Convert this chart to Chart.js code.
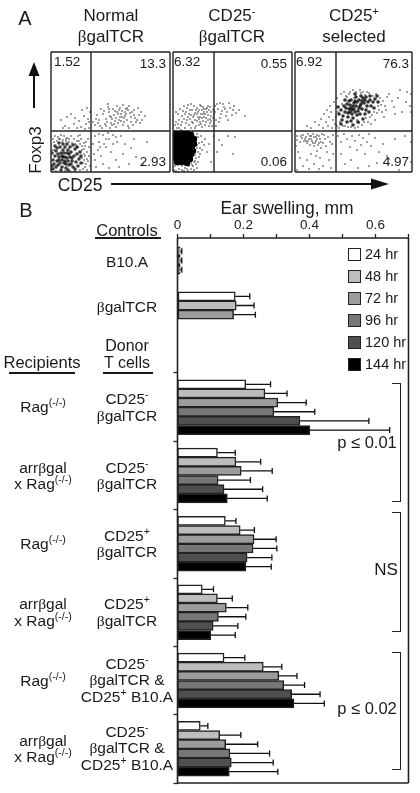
<!DOCTYPE html>
<html>
<head>
<meta charset="utf-8">
<title>Foxp3 and ear swelling</title>
<script src="https://cdn.jsdelivr.net/npm/chart.js@4"></script>
<style>
  html, body { margin: 0; background: #fff; }
  #page { position: relative; width: 420px; height: 793px; overflow: hidden; font-family: "Liberation Sans", Arial, sans-serif; color: #1a1a1a; }
  canvas { position: absolute; }
  .t { position: absolute; white-space: nowrap; text-align: center; line-height: 16.5px; transform: translate(-50%, -50%); font-size: 15.5px; }
  .t sup { font-size: 68%; line-height: 0; vertical-align: 0.55em; }
  .b { font-family: "Liberation Serif", serif; }
  .rule { position: absolute; height: 2px; background: #1a1a1a; }
  .bracket { position: absolute; left: 392px; width: 8px; border: 1.5px solid #222; border-left: none; }
  .swatch { position: absolute; left: 348px; width: 11px; height: 11px; border: 1.5px solid #222; }
  svg { position: absolute; left: 0; top: 0; }
</style>
</head>
<body>
<div id="page">
  <canvas id="panel1"></canvas>
  <canvas id="panel2"></canvas>
  <canvas id="panel3"></canvas>
  <canvas id="controlsChart"></canvas>
  <canvas id="swellingChart"></canvas>
  <svg width="420" height="793">
    <line x1="34" y1="108" x2="34" y2="72" stroke="#111" stroke-width="2"/>
    <polygon points="34,62 28.5,76 39.5,76" fill="#111"/>
    <line x1="111" y1="184" x2="376" y2="184" stroke="#111" stroke-width="2"/>
    <polygon points="389,184 371,178.5 371,189.5" fill="#111"/>
  </svg>
</div>
<script>
const panelTitles = [
  'Normal<br><span class="b">β</span>galTCR',
  'CD25<sup>-</sup><br><span class="b">β</span>galTCR',
  'CD25<sup>+</sup><br>selected'
];
const p1Pct = ['1.52', '13.3', '2.93'];
const p2Pct = ['6.32', '0.55', '0.06'];
const p3Pct = ['6.92', '76.3', '4.97'];
const gateX = [40, 41, 41];
const gateY = [41, 41, 41];

// Points de cytométrie, zones denses
const p1Core = [[14,15],[11,12],[17,11],[8,15],[13,9],[19,15],[16,19],[10,19],[21,11],[6,11],[12,22],[18,7],[23,16],[7,7],[15,4],[20,20],[4,16],[25,10],[9,25],[14,25],[3,8],[26,18],[19,25],[24,23],[5,21],[11,5],[22,5],[28,13],[2,12],[12,15],[16,14],[9,9],[14,11],[18,18],[11,16],[7,18],[21,14],[15,8],[13,19],[17,22],[8,12],[20,8],[5,5],[10,2],[27,6],[4,26],[16,28],[22,27],[29,20],[1,19],[2,3],[6,24],[12,28],[24,3],[30,9],[1,6],[17,2],[26,25],[30,16],[8,29]];
const p2Core = [[3,38],[7,38],[11,38],[15,38],[18,37],[3,34],[7,34],[11,34],[15,34],[19,34],[3,30],[7,30],[11,30],[15,30],[19,30],[3,26],[7,26],[11,26],[15,26],[19,26],[21,28],[3,22],[7,22],[11,22],[15,22],[19,22],[3,18],[7,18],[11,18],[15,18],[18,18],[20,21],[3,14],[7,14],[11,14],[15,14],[17,13],[4,10],[8,10],[12,10],[14,9],[21,33]];
const p3Core = [[58,66],[62,70],[54,63],[66,68],[50,60],[70,72],[60,60],[56,72],[64,64],[52,68],[72,66],[48,56],[68,74],[57,58],[75,72],[61,75],[53,55],[78,70],[46,62],[65,58],[59,69],[63,61],[55,67],[69,69],[51,64],[73,70],[57,62],[67,63],[61,66],[55,60],[49,66],[71,62],[64,72],[58,54],[76,66],[62,57],[44,58],[80,73],[54,71],[66,76],[60,78],[47,52],[52,50],[56,51],[70,58],[74,60],[83,70],[79,64],[43,65],[50,72],[68,53],[63,50],[59,63],[65,66],[56,64],[60,71],[67,71],[53,59],[71,75],[75,76],[82,76],[46,48],[58,47]];

// Points isolés
const p1Dots = [[1,3],[1,22],[2,33],[3,30],[4,36],[6,31],[7,35],[9,33],[10,37],[12,32],[13,36],[15,31],[16,34],[18,30],[20,36],[21,29],[23,33],[24,28],[26,31],[27,25],[29,28],[31,22],[31,26],[33,18],[33,23],[33,12],[34,16],[35,8],[34,5],[36,20],[36,2],[32,3],[29,2],[24,1],[19,1],[14,1],[5,1],[37,11],[38,25],[35,30],[30,33],[27,36],[38,16],[39,6],[32,9],[29,15],[18,33],[11,30],[3,22],[25,27],[33,29],[37,33],[29,37],[31,14],[34,26],[28,31],[15,33],[8,33],[36,13],
  [10,52],[14,46],[20,58],[23,48],[28,51],[30,45],[33,56],[35,48],[37,53],[38,44],[39,60],[26,44],[18,44],[31,62],[36,64],[16,55],[24,54],[34,43],[12,44],[38,50],
  [52,58],[67,49],[71,61],[48,52],[80,55],[61,47],[75,63],[58,60],[88,57],[44,47],[66,66],[73,50],[55,53],[83,62],[63,57],[91,52],[50,63],[77,46],[69,55],[59,44],[85,50],[46,57],[72,67],[64,51],[79,59],[54,48],[68,62],[87,64],[60,55],[76,52],[49,46],[82,47],[57,65],[70,58],[65,45],[74,56],[53,61],[90,60],[62,63],[78,66],[47,49],[84,54],[56,50],[67,58],[72,47],[61,53],[81,60],[51,44],[75,58],[69,64],[59,56],[86,52],[64,61],[73,54],[55,46],[68,52],[77,62],[63,48],[80,50],[58,63],[71,55],[66,60],[83,57],[45,53],[89,49],[74,60],[60,49],[65,54],[70,51],[76,64],[94,56],[57,68],[42,50],[78,44],
  [44,36],[48,30],[52,37],[47,22],[44,12],[50,16],[55,25],[58,33],[62,37],[66,30],[70,36],[74,28],[60,20],[65,12],[72,18],[80,24],[85,15],[92,8],[45,5],[52,8],[58,4],[78,8],[68,5],[55,33],[62,28],[48,38],[42,28],[43,18],[96,30],[83,33],[57,39],[65,35],[53,28],[49,25]];
const p2Dots = [[1,2],[3,1],[6,3],[9,2],[12,4],[15,1],[18,3],[21,2],[24,4],[2,6],[5,7],[9,6],[11,1],[16,6],[20,6],[14,3],[23,8],[25,10],[18,9],[21,10],[19,13],[23,14],[26,15],[22,17],[25,20],[27,18],[24,24],[27,24],[29,22],[26,29],[29,30],[31,27],[25,35],[28,36],[24,38],[32,33],[34,20],[36,28],[38,10],[41,36],[46,32],[49,27],[55,36],[62,35],[44,20],[60,18],[2,41],[20,40],[23,31],[24,27],[22,22],[20,16],[16,11],[1,12],[22,11],[19,7],
  [31,60],[8,47],[22,52],[14,64],[37,49],[5,58],[27,67],[18,44],[33,54],[11,53],[40,62],[24,58],[3,50],[29,45],[16,58],[35,66],[7,63],[20,49],[38,56],[12,44],[26,62],[43,52],[9,56],[30,51],[21,66],[4,44],[34,60],[17,53],[39,46],[25,55],[13,49],[28,58],[6,52],[36,62],[19,62],[32,47],[10,61],[23,46],[41,58],[15,55],[27,50],[2,47],[37,65],[22,59],[30,65],[8,42],[33,50],[18,68],[26,53],[12,58],[35,57],[20,55],[29,62],[5,48],[38,60],[16,47],[24,64],[31,55],[14,52],[28,48],[3,60],[34,64],[9,50],[22,44],[37,53],[11,66],[25,60],[19,50],[32,58],[6,44],[27,55],[40,54],[17,62],[30,58],[13,60],[23,62],[36,46],[21,57],[33,63],[28,66],[35,52],[26,47],[18,57],[24,51],[31,63],[38,51],[29,54],[15,67],[42,60],
  [45,63],[48,58],[44,68],[51,65],[47,54],[54,60],[50,68],[57,64],[46,50],[53,56],[60,62],[43,46],[49,61],[56,69],[63,59],[52,63],[59,57],[66,62],[55,52],[72,56],[61,66],[47,69],[42,66]];
const p3Dots = [[2,2],[3,20],[2,32],[2,36],[1,26],[8,37],[5,30],[14,33],[7,34],[18,29],[11,35],[24,36],[13,38],[9,31],[16,36],[21,31],[19,35],[12,29],[26,30],[22,33],[17,31],[29,37],[15,27],[25,33],[20,29],[10,33],[28,29],[23,27],[33,35],[6,36],[31,26],[16,33],[35,30],[19,26],[27,38],[37,28],[22,37],[30,33],[13,31],[38,37],[24,29],[18,38],[15,36],[21,35],[11,31],[26,24],[16,18],[21,16],[25,14],[12,12],[19,8],[8,6],[28,6],[34,12],[5,14],[38,18],[14,3],[24,3],[36,4],[32,20],[22,21],
  [12,46],[16,44],[24,47],[28,44],[33,46],[20,50],[31,50],[26,53],[37,44],[29,58],[34,55],[38,52],[32,62],[42,46],[36,60],[40,48],[35,66],[41,55],[44,44],[39,70],[45,50],[42,74],[48,46],[47,68],[51,76],[46,78],[43,60],[49,80],[50,46],[54,78],[53,45],[52,75],[55,80],[56,45],[58,82],[60,44],[59,74],[61,80],[63,45],[62,52],[65,82],[64,49],[66,79],[67,47],[68,80],[69,50],[72,80],[71,54],[70,77],[73,50],[74,79],[75,55],[76,48],[78,76],[77,57],[79,60],[80,52],[81,78],[82,59],[83,66],[84,62],[85,74],[86,67],[87,60],[88,71],[89,55],[90,66],[92,75],[94,78],[91,62],[97,71],[99,65],[103,74],[107,60],[111,70],[115,66],[116,78],[116,60],[105,82],[112,80],[100,58],
  [43,36],[46,30],[49,38],[52,33],[55,25],[57,36],[60,31],[62,22],[64,37],[66,27],[68,34],[70,18],[72,30],[74,38],[76,26],[80,34],[84,20],[88,28],[92,16],[94,13],[46,18],[50,8],[56,12],[63,4],[74,6],[82,9],[100,33],[110,36],[116,30],[116,10],[104,2]];

// Panel B : catégories
const controlLabels = ['B10.A', '<span class="b">β</span>galTCR', ''];
const recipients = [
  'Rag<sup>(-/-)</sup>', 'arr<span class="b">β</span>gal<br>x Rag<sup>(-/-)</sup>',
  'Rag<sup>(-/-)</sup>', 'arr<span class="b">β</span>gal<br>x Rag<sup>(-/-)</sup>',
  'Rag<sup>(-/-)</sup>', 'arr<span class="b">β</span>gal<br>x Rag<sup>(-/-)</sup>'
];
const donors = [
  'CD25<sup>-</sup><br><span class="b">β</span>galTCR', 'CD25<sup>-</sup><br><span class="b">β</span>galTCR',
  'CD25<sup>+</sup><br><span class="b">β</span>galTCR', 'CD25<sup>+</sup><br><span class="b">β</span>galTCR',
  'CD25<sup>-</sup><br><span class="b">β</span>galTCR &amp;<br>CD25<sup>+</sup> B10.A', 'CD25<sup>-</sup><br><span class="b">β</span>galTCR &amp;<br>CD25<sup>+</sup> B10.A'
];
const hours = ['24 hr', '48 hr', '72 hr', '96 hr', '120 hr', '144 hr'];
const hourColors = ['#ffffff', '#bdbdbd', '#9c9c9c', '#777777', '#4f4f4f', '#000000'];
const xTicks = ['0', '', '0.2', '', '0.4', '', '0.6', ''];

// Témoins : moyenne puis haut de la barre d'erreur
const ctrl24 = [0.008, 0.175, null];
const ctrl48 = [0.008, 0.178, null];
const ctrl72 = [0.008, 0.170, null];
const ctrlErr24 = [0.013, 0.219, null];
const ctrlErr48 = [0.013, 0.232, null];
const ctrlErr72 = [0.013, 0.236, null];

// Receveurs
const mean24 = [0.207, 0.121, 0.145, 0.075, 0.141, 0.069];
const mean48 = [0.265, 0.177, 0.190, 0.121, 0.260, 0.128];
const mean72 = [0.304, 0.193, 0.232, 0.148, 0.307, 0.146];
const mean96 = [0.292, 0.123, 0.229, 0.124, 0.322, 0.159];
const mean120 = [0.371, 0.141, 0.211, 0.108, 0.346, 0.163];
const mean144 = [0.401, 0.151, 0.207, 0.101, 0.353, 0.157];
const err24 = [0.282, 0.175, 0.177, 0.109, 0.204, 0.092];
const err48 = [0.332, 0.252, 0.233, 0.166, 0.316, 0.192];
const err72 = [0.390, 0.287, 0.299, 0.213, 0.362, 0.243];
const err96 = [0.416, 0.221, 0.301, 0.207, 0.385, 0.279];
const err120 = [0.580, 0.258, 0.286, 0.183, 0.432, 0.290];
const err144 = [0.643, 0.272, 0.284, 0.175, 0.445, 0.304];

const page = document.getElementById('page');

function addText(html, x, y, size, extra) {
  const el = document.createElement('div');
  el.className = 't';
  el.innerHTML = html;
  el.style.left = x + 'px';
  el.style.top = y + 'px';
  if (size) el.style.fontSize = size + 'px';
  if (extra) el.style.cssText += extra;
  page.appendChild(el);
  return el;
}

function addRule(x, y, w) {
  const el = document.createElement('div');
  el.className = 'rule';
  el.style.cssText += `left:${x}px;top:${y}px;width:${w}px`;
  page.appendChild(el);
}

function addBracket(top, height) {
  const el = document.createElement('div');
  el.className = 'bracket';
  el.style.cssText += `top:${top}px;height:${height}px`;
  page.appendChild(el);
}

function sizeCanvas(canvas, left, top, width, height) {
  canvas.style.left = left + 'px';
  canvas.style.top = top + 'px';
  canvas.width = width;
  canvas.height = height;
  canvas.style.width = width + 'px';
  canvas.style.height = height + 'px';
}

// Cadre noir : le graphique B est en deux morceaux, on saute le côté commun
const framePlugin = {
  id: 'frame',
  afterDraw(chart, args, opts) {
    const a = chart.chartArea;
    const ctx = chart.ctx;
    ctx.save();
    ctx.strokeStyle = '#222';
    ctx.lineWidth = opts.width;
    ctx.beginPath();
    if (!opts.noTop) {
      ctx.moveTo(a.left, a.top);
      ctx.lineTo(a.right, a.top);
    }
    ctx.moveTo(a.right, a.top);
    ctx.lineTo(a.right, a.bottom);
    if (!opts.noBottom) {
      ctx.moveTo(a.right, a.bottom);
      ctx.lineTo(a.left, a.bottom);
    }
    ctx.moveTo(a.left, a.bottom);
    ctx.lineTo(a.left, a.top);
    ctx.stroke();
    ctx.restore();
  }
};

// Barres d'erreur, côté droit seulement
const errorPlugin = {
  id: 'errors',
  afterDatasetsDraw(chart) {
    const ctx = chart.ctx;
    const x = chart.scales.x;
    ctx.save();
    ctx.strokeStyle = '#111';
    ctx.lineWidth = 1.3;
    chart.data.datasets.forEach((ds, i) => {
      chart.getDatasetMeta(i).data.forEach((bar, j) => {
        if (ds.errors[j] === null) return;
        const px = x.getPixelForValue(ds.errors[j]);
        ctx.beginPath();
        ctx.moveTo(bar.x, bar.y);
        ctx.lineTo(px, bar.y);
        ctx.moveTo(px, bar.y - 3);
        ctx.lineTo(px, bar.y + 3);
        ctx.stroke();
      });
    });
    ctx.restore();
  }
};

function toPoints(list) {
  return list.map(p => ({ x: p[0], y: p[1] }));
}

function renderPanel(id, left, width, core, dots, coreColor, coreRadius, gx, gy) {
  const canvas = document.getElementById(id);
  sizeCanvas(canvas, left, 51, width, 122);
  new Chart(canvas, {
    type: 'scatter',
    data: {
      datasets: [
        { data: toPoints(core), pointRadius: coreRadius, pointBorderWidth: 0, pointBackgroundColor: coreColor, clip: 0 },
        { data: toPoints(dots), pointRadius: 0.75, pointBorderWidth: 0, pointBackgroundColor: '#111', clip: 0 },
        { data: [{ x: gx, y: 0 }, { x: gx, y: 120 }], showLine: true, pointRadius: 0, borderColor: '#222', borderWidth: 1.4 },
        { data: [{ x: 0, y: gy }, { x: 120, y: gy }], showLine: true, pointRadius: 0, borderColor: '#222', borderWidth: 1.4 }
      ]
    },
    options: {
      responsive: false,
      animation: false,
      layout: { padding: 1, autoPadding: false },
      plugins: { legend: { display: false }, tooltip: { enabled: false }, frame: { width: 1.4 } },
      scales: {
        x: { display: false, min: 0, max: width - 2 },
        y: { display: false, min: 0, max: 120 }
      }
    },
    plugins: [framePlugin]
  });
}

renderPanel('panel1', 50, 121, p1Core, p1Dots, 'rgba(0,0,0,0.75)', 1.8, gateX[0], gateY[0]);
renderPanel('panel2', 171.5, 121, p2Core, p2Dots, '#000', 3.2, gateX[1], gateY[1]);
renderPanel('panel3', 293.5, 119, p3Core, p3Dots, 'rgba(0,0,0,0.8)', 1.8, gateX[2], gateY[2]);

// Textes du panel A
addText('A', 25, 18, 20);
[111, 232, 354].forEach((x, i) => addText(panelTitles[i], x, 26, 17, 'line-height:21px'));
[[p1Pct, 54, 166], [p2Pct, 174, 287], [p3Pct, 296, 409]].forEach(([pct, l, r]) => {
  addText(pct[0], l, 62, 13.5, 'transform:translate(0,-50%)');
  addText(pct[1], r, 64, 13.5, 'transform:translate(-100%,-50%)');
  addText(pct[2], r, 162, 13.5, 'transform:translate(-100%,-50%)');
});
addText('Foxp3', 36, 150, 17, 'transform:translate(-50%,-50%) rotate(-90deg)');
addText('CD25', 80, 185, 17.5);

// Panel B : deux graphiques collés, témoins en haut et receveurs en bas
function barDataset(values, errors, hourIndex) {
  return {
    label: hours[hourIndex],
    data: values,
    errors: errors,
    backgroundColor: hourColors[hourIndex],
    borderColor: '#222',
    borderWidth: 1.5,
    borderSkipped: false,
    barThickness: 9.15
  };
}

const ctrlSeries = [ctrl24, ctrl48, ctrl72];
const ctrlErrSeries = [ctrlErr24, ctrlErr48, ctrlErr72];
const meanSeries = [mean24, mean48, mean72, mean96, mean120, mean144];
const errSeries = [err24, err48, err72, err96, err120, err144];

const controlsTop = 190;
const controlsCanvas = document.getElementById('controlsChart');
sizeCanvas(controlsCanvas, 0, controlsTop, 420, 183);
const controlsChart = new Chart(controlsCanvas, {
  type: 'bar',
  data: {
    labels: controlLabels,
    datasets: ctrlSeries.map((v, i) => barDataset(v, ctrlErrSeries[i], i))
  },
  options: {
    indexAxis: 'y',
    responsive: false,
    animation: false,
    layout: { padding: { right: 11.5 } },
    plugins: { legend: { display: false }, tooltip: { enabled: false }, frame: { width: 1.6, noBottom: true } },
    scales: {
      x: {
        position: 'top',
        min: 0,
        max: 0.7,
        afterFit(s) { s.height = 48; },
        afterBuildTicks(s) {
          s.ticks = xTicks.map((_, i) => ({ value: i / 10 }));
        },
        ticks: {
          autoSkip: false,
          maxRotation: 0,
          padding: 1,
          color: '#1a1a1a',
          font: { family: 'Liberation Sans', size: 13.5 },
          callback: (v, i) => xTicks[i]
        },
        border: { display: false },
        grid: { drawOnChartArea: false, tickLength: 4, tickColor: '#222', tickWidth: 1.3 }
      },
      y: {
        afterFit(s) { s.width = 177.5; },
        ticks: { display: false },
        border: { display: false },
        grid: { display: false }
      }
    }
  },
  plugins: [framePlugin, errorPlugin]
});

const swellTop = 370;
const swellCanvas = document.getElementById('swellingChart');
sizeCanvas(swellCanvas, 0, swellTop, 420, 420);
const swellChart = new Chart(swellCanvas, {
  type: 'bar',
  data: {
    labels: donors,
    datasets: meanSeries.map((v, i) => barDataset(v, errSeries[i], i))
  },
  options: {
    indexAxis: 'y',
    responsive: false,
    animation: false,
    layout: { padding: { right: 11.5, top: 3, bottom: 7 } },
    plugins: { legend: { display: false }, tooltip: { enabled: false }, frame: { width: 1.6, noTop: true } },
    scales: {
      x: { display: false, min: 0, max: 0.7 },
      y: {
        afterFit(s) { s.width = 177.5; },
        ticks: { display: false },
        border: { display: false },
        grid: { drawOnChartArea: false, tickLength: 4, tickColor: '#222', tickWidth: 1.3 }
      }
    }
  },
  plugins: [framePlugin, errorPlugin]
});

// Étiquettes de lignes placées avec les échelles
controlLabels.forEach((label, i) => {
  if (label) addText(label, 127, controlsTop + controlsChart.scales.y.getPixelForValue(i) + 1);
});
donors.forEach((label, i) => {
  const y = swellTop + swellChart.scales.y.getPixelForValue(i);
  addText(label, 127, y);
  addText(recipients[i], 43, y);
});

addText('B', 26, 210, 20);
addText('Controls', 127, 230, 16.5);
addRule(95, 237, 66);
addText('Donor<br>T cells', 127, 354, 16);
addRule(103, 372, 50);
addText('Recipients', 42, 362, 16.5);
addRule(9, 372, 66);
addText('Ear swelling, mm', 287, 208, 17.5);

// Légende
hours.forEach((h, i) => {
  const y = 254 + i * 22;
  const sw = document.createElement('div');
  sw.className = 'swatch';
  sw.style.cssText += `top:${y - 6}px;background:${hourColors[i]}`;
  page.appendChild(sw);
  addText(h, 365, y, 14.5, 'transform:translate(0,-50%)');
});

// Accolades et significativité
addBracket(383, 117);
addBracket(512, 118);
addBracket(652, 116);
addText('p ≤ 0.01', 367, 442, 16.5);
addText('NS', 386, 570, 17);
addText('p ≤ 0.02', 367, 708, 16.5);
</script>
</body>
</html>
